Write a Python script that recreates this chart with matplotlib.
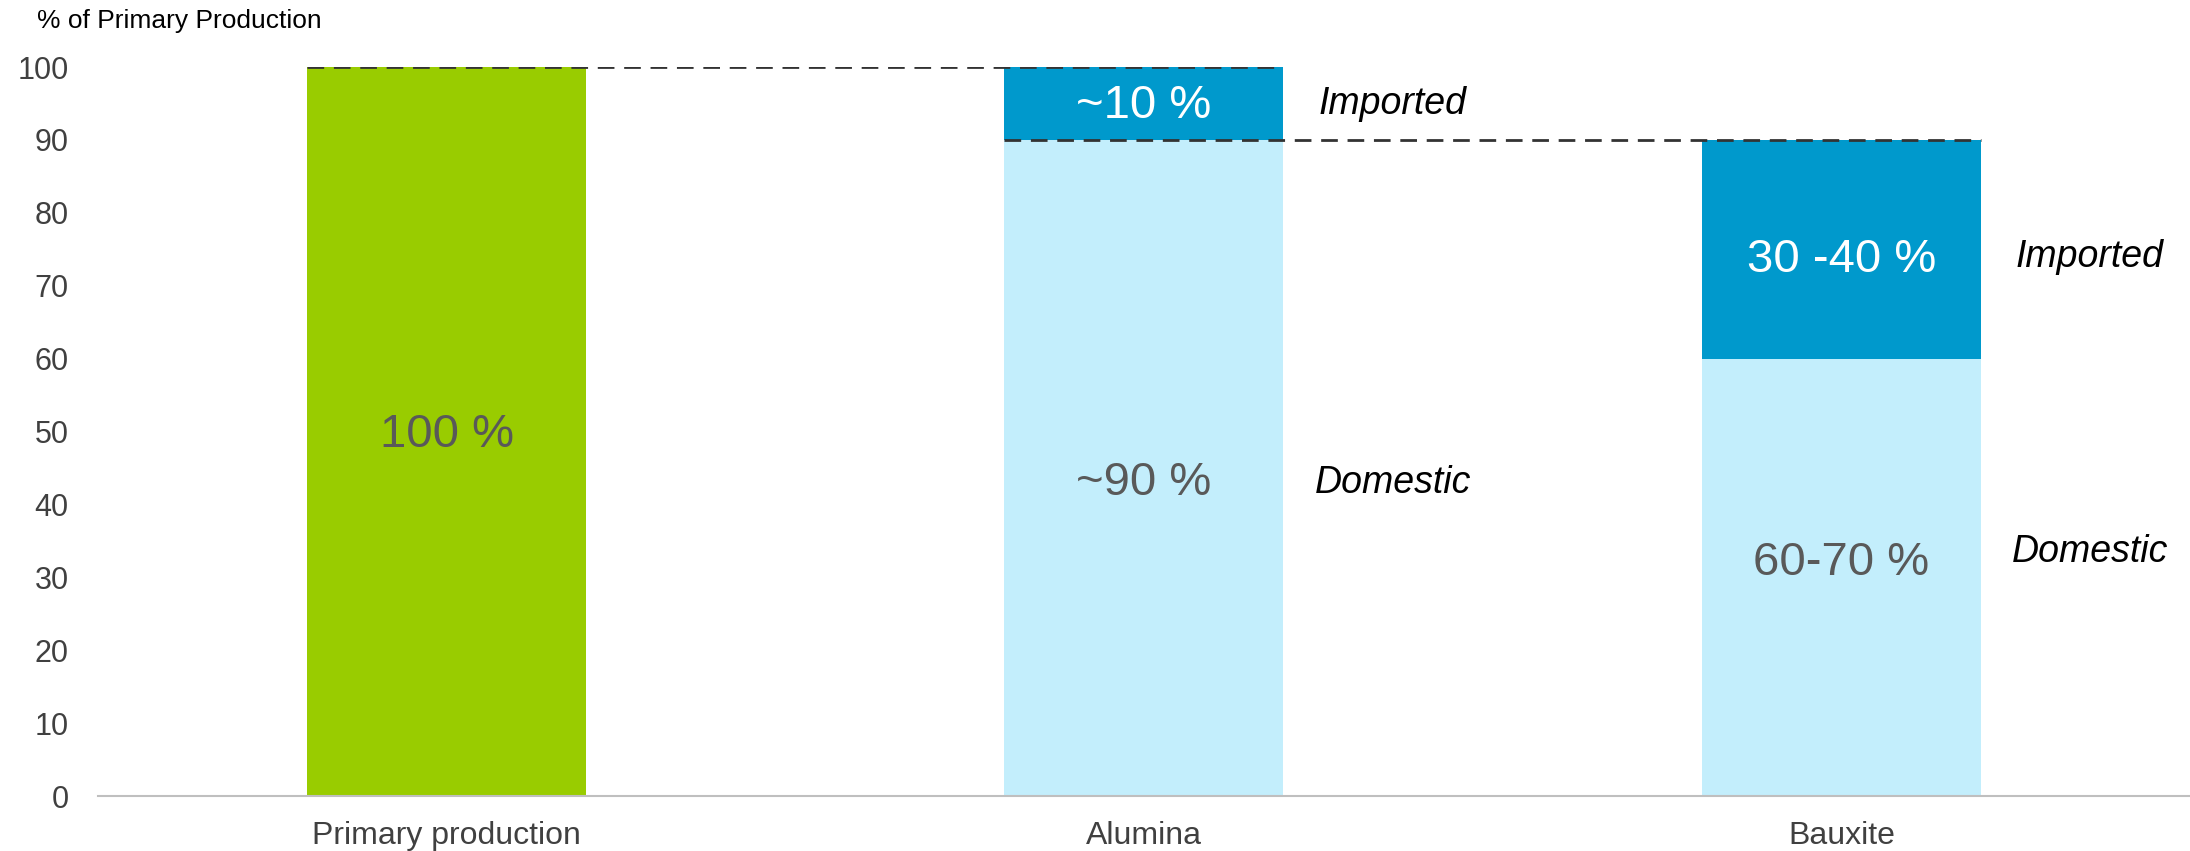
#!/usr/bin/env python

"""Share of primary aluminium production covered by domestic and imported inputs."""

import matplotlib
matplotlib.use('Agg')
import matplotlib.pyplot as plt

plt.rcParams['font.family'] = ['Liberation Sans', 'DejaVu Sans']

# data
categories = ['Primary production', 'Alumina', 'Bauxite']
domestic = [100, 90, 60]
imported = [0, 10, 30]
domestic_labels = ['100 %', '~90 %', '60-70 %']
imported_labels = ['', '~10 %', '30 -40 %']
yticks = [0, 10, 20, 30, 40, 50, 60, 70, 80, 90, 100]

# colours
green = '#99CC00'
light_blue = '#C3EEFC'
dark_blue = '#0099CC'
text_grey = '#595959'
tick_grey = '#404040'


def main():
    """Draw the stacked bars with annotations."""

    fig = plt.figure(figsize=(21.9, 8.51), dpi=100)
    ax = fig.add_axes([0.0447, 0.0646, 0.9553, 0.8566])

    x = list(range(len(categories)))
    width = 0.4

    # bars
    base_colors = [green, light_blue, light_blue]
    ax.bar(x, domestic, width=width, color=base_colors, zorder=2)
    ax.bar(x, imported, width=width, bottom=domestic, color=dark_blue,
           zorder=2)

    # dashed connectors: top of each bar carried over to the next one
    dash = dict(colors='#333333', linestyles=(0, (6, 3.5)), linewidth=2,
                zorder=3)
    ax.hlines(domestic[0] + imported[0], x[0] - width / 2,
              x[1] + width / 2, **dash)
    ax.hlines(domestic[1], x[1] - width / 2, x[2] + width / 2, **dash)

    # value labels inside bars
    dom_y = [49.5, 43, 32]
    imp_y = [None, 94.7, 73.5]
    for i in x:
        ax.text(x[i], dom_y[i], domestic_labels[i], ha='center',
                va='center', fontsize=34, color=text_grey, zorder=4)
        if imported_labels[i]:
            ax.text(x[i], imp_y[i], imported_labels[i], ha='center',
                    va='center', fontsize=34, color='white', zorder=4)

    # side annotations
    side = {1: (95, 43), 2: (74, 33.5)}
    for i, (yi, yd) in side.items():
        ax.text(x[i] + 0.25, yi, 'Imported', ha='left', va='center',
                fontsize=27, style='italic', color='black')
        ax.text(x[i] + 0.245, yd, 'Domestic', ha='left', va='center',
                fontsize=27, style='italic', color='black')

    # axes properties
    ax.set_xlim(-0.5, 2.5)
    ax.set_ylim(0, 100)
    ax.set_xticks(x)
    ax.set_xticklabels(categories, fontsize=23, color=tick_grey)
    ax.set_yticks(yticks)
    ax.set_yticklabels([str(t) for t in yticks], fontsize=22,
                       color=tick_grey)
    ax.tick_params(axis='both', length=0)
    ax.tick_params(axis='y', pad=21)
    ax.tick_params(axis='x', pad=18)
    for s in ['top', 'right', 'left']:
        ax.spines[s].set_visible(False)
    ax.spines['bottom'].set_color('#BFBFBF')
    ax.spines['bottom'].set_linewidth(1.5)

    fig.text(37 / 2190, 1 - 21 / 851, '% of Primary Production',
             ha='left', va='center', fontsize=19, color='black')

    # save
    fig.savefig('out.png', dpi=100)


if __name__ == '__main__':
    main()
